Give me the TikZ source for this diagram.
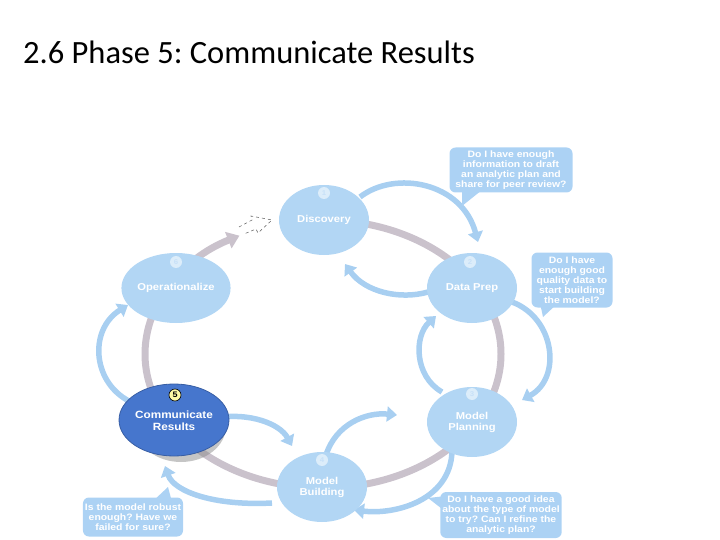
\documentclass[tikz,border=0pt]{standalone}
\usepackage{fontspec}
\setmainfont{Carlito}
\newfontfamily\arl[FakeStretch=1.12]{Liberation Sans}
\usetikzlibrary{shapes.geometric,arrows.meta}
\definecolor{nodeblue}{RGB}{178,214,244}
\definecolor{arrowblue}{RGB}{168,207,241}
\definecolor{bubbleblue}{RGB}{172,210,244}
\definecolor{darkblue}{RGB}{70,118,205}
\definecolor{ringgrey}{RGB}{202,194,204}
\definecolor{numtext}{RGB}{200,225,248}
\frenchspacing
\begin{document}
\frenchspacing
\begin{tikzpicture}[x=1pt,y=-1pt,
  phase/.style={ellipse, fill=nodeblue, minimum width=90pt, minimum height=70pt, inner sep=0pt,
    text=white, font=\arl\bfseries\fontsize{10}{11}\selectfont, align=center},
  numdot/.style={circle, fill=white!55!nodeblue, minimum size=12pt, inner sep=0pt,
    text=numtext, font=\arl\bfseries\fontsize{7}{8}\selectfont},
  flow/.style={draw=arrowblue, line width=5.5pt, -{Triangle[width=15pt,length=10pt]}},
  ring/.style={draw=ringgrey, line width=7pt, -{Triangle[width=17pt,length=12pt]}},
  bubble/.style={fill=bubbleblue, rounded corners=6pt, text=white, align=center,
    font=\arl\bfseries\fontsize{9.3}{10}\selectfont\frenchspacing, inner sep=2pt},
  tail/.style={fill=bubbleblue}]
\useasboundingbox (0,0) rectangle (720,540);

% title
\node[anchor=base west, inner sep=0pt, font=\fontsize{32.5}{36}\selectfont\frenchspacing] (title) at (23,64) {2.6 Phase 5: Communicate Results};

% grey ring
\coordinate (ringstart) at (323,220);
\draw[ring] (ringstart) arc[start angle=270, end angle=602, x radius=178, y radius=134];
% dashed outline arrow
\draw[dashed, black!65, line width=0.5pt] (239,227) -- (252,220) -- (251,216) -- (272,220) -- (258,233) -- (256,229) -- (244,234);

% blue flow arrows
\coordinate (a1s) at (360,197); \coordinate (a1e) at (478,242);
\draw[flow] (a1s) .. controls (395,170) and (462,182) .. (a1e);
\coordinate (a2s) at (428,292); \coordinate (a2e) at (345,264);
\draw[flow] (a2s) .. controls (400,300) and (365,292) .. (a2e);
\coordinate (a3s) at (512,302); \coordinate (a3e) at (522,400);
\draw[flow] (a3s) .. controls (555,318) and (562,378) .. (a3e);
\coordinate (a4s) at (442,392); \coordinate (a4e) at (436,316);
\draw[flow] (a4s) .. controls (414,376) and (414,336) .. (a4e);
\coordinate (a5s) at (215,418); \coordinate (a5e) at (292,446);
\draw[flow] (a5s) .. controls (250,412) and (280,424) .. (a5e);
\coordinate (a6s) at (326,455); \coordinate (a6e) at (397,415);
\draw[flow] (a6s) .. controls (336,424) and (366,412) .. (a6e);
\coordinate (a7s) at (452,452); \coordinate (a7e) at (354,510);
\draw[flow] (a7s) .. controls (450,500) and (396,515) .. (a7e);
\coordinate (a8s) at (272,503); \coordinate (a8e) at (165,466);
\draw[flow] (a8s) .. controls (215,506) and (174,492) .. (a8e);
\coordinate (a9s) at (133,403); \coordinate (a9e) at (128,305);
\draw[flow] (a9s) .. controls (92,385) and (88,330) .. (a9e);

% phase nodes
\node[phase] (disc) at (324,220) {Discovery};
\node[phase] (prep) at (472,288) {Data Prep};
\node[phase] (plan) at (472,422) {\\[-2pt]Model\\Planning};
\node[phase] (build) at (322,487) {\\[-2pt]Model\\Building};
\node[phase] (oper) at (176,288) {Operationalize};
\node[ellipse, fill=black!45, opacity=0.5, minimum width=90pt, minimum height=72pt] (shadow) at (181,426) {};
\node[phase, fill=darkblue, draw=darkblue!80!black, line width=0.8pt, minimum height=72pt, font=\arl\bfseries\fontsize{10.5}{11.5}\selectfont] (comm) at (174,420) {\\[-2pt]Communicate\\Results};

% numbers
\node[numdot] (n1) at (324,193) {1};
\node[numdot] (n2) at (470,262) {2};
\node[numdot] (n3) at (472,394) {3};
\node[numdot] (n4) at (322,460) {4};
\node[numdot] (n6) at (176,262) {6};
\node[circle, fill=yellow!35, draw=black, line width=0.6pt, minimum size=12pt, inner sep=0pt,
  font=\arl\bfseries\fontsize{8}{9}\selectfont] (n5) at (175,395) {5};

% bubbles
\fill[tail] (462,190) -- (482,190) -- (462,206) -- cycle;
\node[bubble, minimum width=123pt, minimum height=45pt] (b1) at (511,170)
  {Do I have enough\\information to draft\\an analytic plan and\\share for peer review?};
\fill[tail] (540,303) -- (558,303) -- (543,317) -- cycle;
\node[bubble, minimum width=81pt, minimum height=55pt] (b2) at (572,280)
  {Do I have\\enough good\\quality data to\\start building\\the model?};
\fill[tail] (446,496) -- (446,512) -- (428,498) -- cycle;
\node[bubble, minimum width=118pt, minimum height=46pt] (b3) at (501,515)
  {Do I have a good idea\\about the type of model\\to try? Can I refine the\\analytic plan?};
\fill[tail] (152,502) -- (172,502) -- (168,487) -- cycle;
\node[bubble, minimum width=100pt, minimum height=39pt] (b4) at (133,517)
  {Is the model robust\\enough? Have we\\failed for sure?};
\end{tikzpicture}
\end{document}
